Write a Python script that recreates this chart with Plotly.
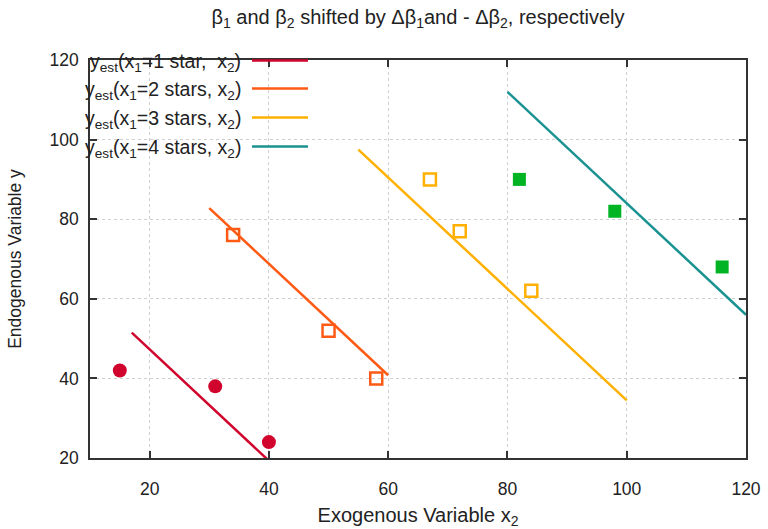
import plotly.graph_objects as go

# Data points
x_1star = [15, 31, 40]
y_1star = [42, 38, 24]
x_2star = [34, 50, 58]
y_2star = [76, 52, 40]
x_3star = [67, 72, 84]
y_3star = [90, 77, 62]
x_4star = [82, 98, 116]
y_4star = [90, 82, 68]

# Estimated lines (endpoints)
line1_x = [17, 40]
line1_y = [51.5, 19.3]
line2_x = [30, 60]
line2_y = [82.8, 40.8]
line3_x = [55, 100]
line3_y = [97.5, 34.5]
line4_x = [80, 120]
line4_y = [112, 56]

tick_vals = [20, 40, 60, 80, 100, 120]

legend_labels = [
    "y<sub>est</sub>(x<sub>1</sub>=1 star, &nbsp;x<sub>2</sub>)",
    "y<sub>est</sub>(x<sub>1</sub>=2 stars, x<sub>2</sub>)",
    "y<sub>est</sub>(x<sub>1</sub>=3 stars, x<sub>2</sub>)",
    "y<sub>est</sub>(x<sub>1</sub>=4 stars, x<sub>2</sub>)",
]

c_red = "#d0042c"
c_orange = "#ff5a14"
c_yellow = "#ffb000"
c_teal = "#1a9292"
c_green = "#00b424"
line_colors = [c_red, c_orange, c_yellow, c_teal]

FONT = "Liberation Sans, Arial, sans-serif"
TXT = "#222"

fig = go.Figure()

for lx, ly, col in [(line1_x, line1_y, c_red), (line2_x, line2_y, c_orange),
                    (line3_x, line3_y, c_yellow), (line4_x, line4_y, c_teal)]:
    fig.add_trace(go.Scatter(x=lx, y=ly, mode="lines", line=dict(color=col, width=2.5),
                             showlegend=False, hoverinfo="skip"))

fig.add_trace(go.Scatter(x=x_1star, y=y_1star, mode="markers",
                         marker=dict(symbol="circle", size=14, color=c_red), showlegend=False))
fig.add_trace(go.Scatter(x=x_2star, y=y_2star, mode="markers",
                         marker=dict(symbol="square-open", size=12, color=c_orange,
                                     line=dict(width=2.5, color=c_orange)), showlegend=False))
fig.add_trace(go.Scatter(x=x_3star, y=y_3star, mode="markers",
                         marker=dict(symbol="square-open", size=12, color=c_yellow,
                                     line=dict(width=2.5, color=c_yellow)), showlegend=False))
fig.add_trace(go.Scatter(x=x_4star, y=y_4star, mode="markers",
                         marker=dict(symbol="square", size=13, color=c_green), showlegend=False))

# Legend drawn as annotations + sample lines (gnuplot style: text then line)
L, R, T, B = 90, 22, 60, 71
W = 768 - L - R
H = 529 - T - B
row_py = [62, 90, 119, 148]
for i, (lab, col) in enumerate(zip(legend_labels, line_colors)):
    py = row_py[i]
    yp = (458 - py) / H
    fig.add_annotation(x=(243 - L) / W, y=yp, xref="paper", yref="paper",
                       text=lab, showarrow=False, xanchor="right", yanchor="middle",
                       font=dict(family=FONT, size=19.5, color=TXT))
    fig.add_shape(type="line", xref="paper", yref="paper",
                  x0=(252 - L) / W, x1=(308 - L) / W, y0=yp + 0.004, y1=yp + 0.004,
                  line=dict(color=col, width=2.5))

axis_common = dict(
    showline=True, linecolor="#333", linewidth=1.5, mirror="allticks",
    ticks="inside", ticklen=7, tickcolor="#333", tickwidth=1.5,
    showgrid=True, gridcolor="#cfcfcf", griddash="dot", gridwidth=1,
    zeroline=False, automargin=False,
    tickfont=dict(family=FONT, size=17.5, color=TXT),
)

fig.update_layout(
    width=768, height=529,
    margin=dict(l=L, r=R, t=T, b=B, autoexpand=False),
    plot_bgcolor="white", paper_bgcolor="white",
    font=dict(family=FONT, size=18, color=TXT),
    title=dict(text="β<sub>1</sub> and β<sub>2</sub> shifted by Δβ<sub>1</sub>and - Δβ<sub>2</sub>, respectively",
               x=418 / 768, xanchor="center", y=0.968, yanchor="middle",
               font=dict(family=FONT, size=20, color=TXT)),
    xaxis=dict(range=[10, 120], tickvals=tick_vals, ticklabelstandoff=14,
               title=dict(text="Exogenous Variable x<sub>2</sub>", standoff=12,
                          font=dict(family=FONT, size=20, color=TXT)),
               **axis_common),
    yaxis=dict(range=[20, 120], tickvals=tick_vals, ticklabelstandoff=6,
               title=dict(text="Endogenous Variable y", standoff=23,
                          font=dict(family=FONT, size=17.5, color=TXT)),
               **axis_common),
)

fig.write_html("out.html")
